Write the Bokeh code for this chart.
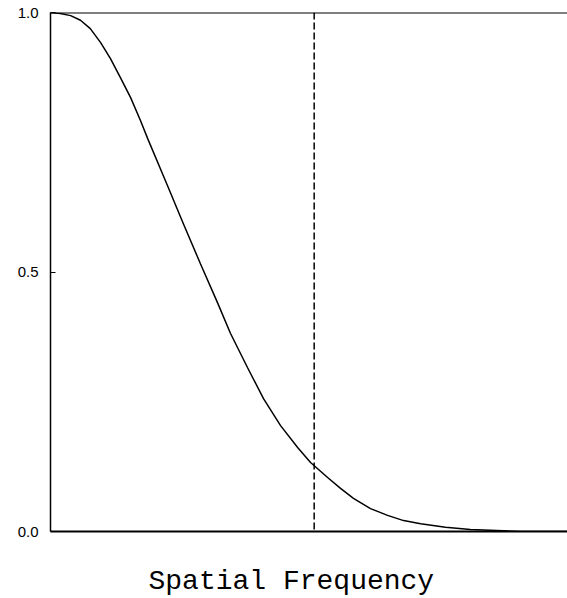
from bokeh.plotting import figure
from bokeh.models import Span, Title, Range1d, FixedTicker
from bokeh.embed import file_html
from bokeh.resources import INLINE

# data
freq = [0.000, 0.019, 0.039, 0.058, 0.077, 0.097, 0.116, 0.135, 0.155, 0.174,
        0.188, 0.226, 0.257, 0.290, 0.323, 0.348, 0.381, 0.412, 0.445, 0.478,
        0.503, 0.536, 0.561, 0.586, 0.619, 0.652, 0.683, 0.716, 0.764, 0.812,
        0.909, 1.000]
response = [1.000, 0.998, 0.994, 0.985, 0.969, 0.942, 0.911, 0.875, 0.836, 0.792,
            0.757, 0.667, 0.593, 0.516, 0.441, 0.382, 0.316, 0.256, 0.204, 0.162,
            0.133, 0.104, 0.083, 0.064, 0.044, 0.031, 0.021, 0.015, 0.008, 0.004,
            0.000, 0.000]
cutoff = 0.51
y_ticks = [0.0, 0.5, 1.0]
y_tick_labels = {0.0: "0.0", 0.5: "0.5", 1.0: "1.0"}
x_label = "Spatial Frequency"

p = figure(width=567, height=598, output_backend="svg", toolbar_location=None,
           x_range=Range1d(0, 1), y_range=Range1d(0, 1),
           min_border_left=50, min_border_right=0, min_border_top=12, min_border_bottom=67)
p.outline_line_color = None
p.grid.visible = False
p.background_fill_color = "white"
p.border_fill_color = "white"

p.line(freq, response, line_color="black", line_width=1.5)

p.add_layout(Span(location=cutoff, dimension="height", line_color="black",
                  line_width=1.5, line_dash="7 3"))
p.add_layout(Span(location=1.0, dimension="width", line_color="black", line_width=2))

# x axis: line only
p.xaxis.ticker = FixedTicker(ticks=[])
p.xaxis.major_tick_line_color = None
p.xaxis.minor_tick_line_color = None
p.xaxis.major_tick_out = 0
p.xaxis.major_tick_in = 0
p.xaxis.major_label_text_font_size = "0px"
p.xaxis.major_label_standoff = 0
p.xaxis.axis_line_color = "black"
p.xaxis.axis_line_width = 2

# y axis
p.yaxis.ticker = FixedTicker(ticks=y_ticks)
p.yaxis.major_label_overrides = y_tick_labels
p.yaxis.major_tick_in = 5
p.yaxis.major_tick_out = 0
p.yaxis.minor_tick_line_color = None
p.yaxis.major_tick_line_color = "black"
p.yaxis.axis_line_color = "black"
p.yaxis.axis_line_width = 1.5
p.yaxis.major_label_text_font = "Liberation Sans"
p.yaxis.major_label_text_font_size = "15px"
p.yaxis.major_label_text_color = "black"
p.yaxis.major_label_text_baseline = "hanging"
p.yaxis.major_label_standoff = 12

# spacer between the frame and the label
p.add_layout(Title(text=" ", text_font_size="1px", standoff=31), "below")
p.add_layout(Title(text=x_label, align="left", offset=98, standoff=0,
                   vertical_align="top",
                   text_font="Liberation Mono", text_font_size="28px",
                   text_font_style="normal", text_color="black"), "below")

open("out.html", "w").write(file_html(p, INLINE))
